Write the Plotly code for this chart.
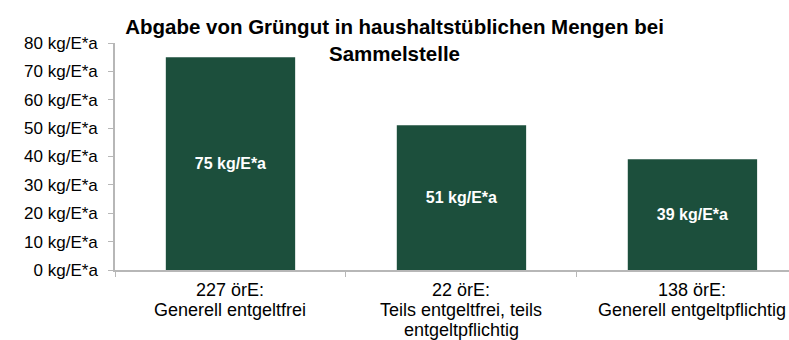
import plotly.graph_objects as go

# Green waste collected at drop-off points, per group of public waste authorities (örE)
categories = ["Generell entgeltfrei", "Teils entgeltfrei, teils entgeltpflichtig", "Generell entgeltpflichtig"]
category_labels = [
    ["227 örE:", "Generell entgeltfrei"],
    ["22 örE:", "Teils entgeltfrei, teils", "entgeltpflichtig"],
    ["138 örE:", "Generell entgeltpflichtig"],
]
values = [75, 51, 39]
y_ticks = [0, 10, 20, 30, 40, 50, 60, 70, 80]
unit = "kg/E*a"

bar_color = "#1c4f3c"
axis_gray = "#b7b7b7"
font_family = "Arial, Liberation Sans, sans-serif"

fig = go.Figure(
    go.Bar(
        x=categories,
        y=values,
        width=0.56,
        marker=dict(color=bar_color, line=dict(width=0)),
        text=[f"{v} {unit}" for v in values],
        textposition="inside",
        insidetextanchor="middle",
        textfont=dict(family=font_family, size=16, color="white", weight="bold"),
        hoverinfo="skip",
    )
)

# Category labels below the axis, one annotation per line for tight line spacing
label_offset = 20
line_step = 20
for cat, lines in zip(categories, category_labels):
    for i, line in enumerate(lines):
        fig.add_annotation(
            x=cat,
            xref="x",
            y=0,
            yref="paper",
            text=line,
            showarrow=False,
            xanchor="center",
            yanchor="middle",
            yshift=-(label_offset + i * line_step),
            font=dict(family=font_family, size=18, color="black"),
        )

fig.update_layout(
    width=789,
    height=340,
    margin=dict(l=115, r=0, t=43, b=70),
    paper_bgcolor="white",
    plot_bgcolor="white",
    showlegend=False,
    font=dict(family=font_family, size=17, color="black"),
    title=dict(
        text="Abgabe von Grüngut in haushaltstüblichen Mengen bei<br>Sammelstelle",
        font=dict(family=font_family, size=20.5, color="black", weight="bold"),
        x=0.5,
        xref="container",
        xanchor="center",
        y=0.9,
        yref="container",
        yanchor="middle",
        automargin=False,
    ),
)

fig.update_xaxes(
    type="category",
    range=[-0.5, 2.418],
    automargin=False,
    showline=True,
    linecolor=axis_gray,
    linewidth=1.5,
    ticks="outside",
    tickson="boundaries",
    ticklen=5,
    tickcolor=axis_gray,
    showticklabels=False,
    showgrid=False,
    zeroline=False,
    fixedrange=True,
)

fig.update_yaxes(
    range=[0, 80],
    tickvals=y_ticks,
    ticktext=[f"{t} {unit}" for t in y_ticks],
    automargin=False,
    showline=True,
    linecolor=axis_gray,
    linewidth=1.5,
    ticks="outside",
    ticklen=5,
    tickcolor=axis_gray,
    ticklabelstandoff=7,
    tickfont=dict(family=font_family, size=17, color="black"),
    showgrid=False,
    zeroline=False,
    fixedrange=True,
)

fig.write_html("out.html")
